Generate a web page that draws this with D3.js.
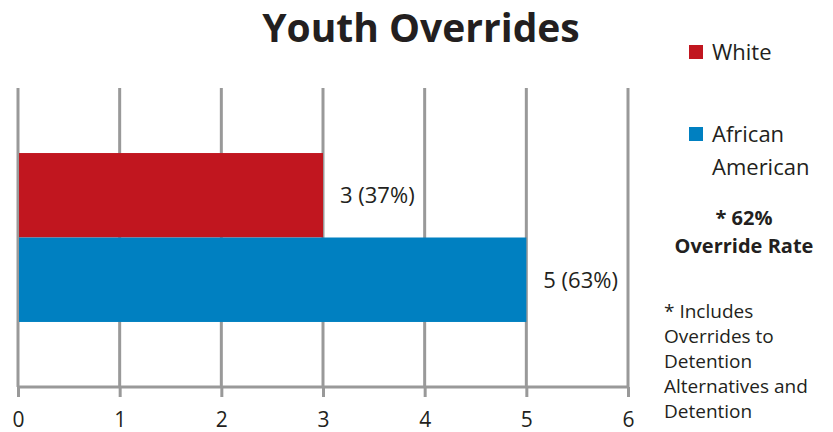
<!DOCTYPE html>
<html>
<head>
<meta charset="utf-8">
<script src="https://cdn.jsdelivr.net/npm/d3@7"></script>
<style>
  body { margin: 0; background: #fff; }
  svg text { font-family: "Open Sans", "Noto Sans", sans-serif; fill: #231f20; }
</style>
</head>
<body>
<div id="root"></div>
<script>
// data
const series = ['White', 'African American'];
const values = [3, 5];
const valueLabels = ['3 (37%)', '5 (63%)'];
const colors = ['#c1161f', '#0080c1'];
const xTicks = [0, 1, 2, 3, 4, 5, 6];
const legendLines = [['White'], ['African', 'American']];
const rateLines = ['* 62%', 'Override Rate'];
const noteLines = ['* Includes', 'Overrides to', 'Detention', 'Alternatives and', 'Detention'];

const w = 833, h = 432;
const svg = d3.select('#root').append('svg').attr('width', w).attr('height', h);

// scales
const x = d3.scaleLinear().domain([0, 6]).range([18, 628]);
const y = d3.scaleBand().domain(series).range([88, 387]).paddingInner(0).paddingOuter(0.77);

// gridlines
svg.append('g').selectAll('line')
  .data(xTicks)
  .enter().append('line')
  .attr('x1', d => x(d)).attr('x2', d => x(d))
  .attr('y1', 88).attr('y2', 387)
  .attr('stroke', '#999').attr('stroke-width', 3);

// bars
svg.selectAll('rect.bar')
  .data(values)
  .enter().append('rect')
  .attr('class', 'bar')
  .attr('x', x(0) + 1)
  .attr('y', (d, i) => y(series[i]))
  .attr('width', d => x(d) - x(0) - 1)
  .attr('height', y.bandwidth())
  .attr('fill', (d, i) => colors[i]);

// value labels
svg.selectAll('text.val')
  .data(values)
  .enter().append('text')
  .attr('class', 'val')
  .attr('x', d => x(d) + 17)
  .attr('y', (d, i) => y(series[i]) + y.bandwidth() / 2 + 8)
  .style('font-size', '22px')
  .text((d, i) => valueLabels[i]);

// x axis
const xAxis = d3.axisBottom(x).tickValues(xTicks).tickFormat(d3.format('d')).tickSize(10).tickPadding(15);
const ax = svg.append('g')
  .attr('transform', 'translate(0,387)')
  .call(xAxis);
ax.select('.domain').attr('stroke', '#999').attr('stroke-width', 3).attr('d', `M${x(0)},0H${x(6)}`);
ax.selectAll('.tick line').attr('stroke', '#999').attr('stroke-width', 3);
ax.selectAll('.tick text').style('font-size', '21px').style('font-family', '"Open Sans", sans-serif').attr('fill', '#231f20');

// title
svg.append('text')
  .attr('x', 421).attr('y', 42)
  .attr('text-anchor', 'middle')
  .style('font-size', '39px').style('font-weight', 'bold')
  .text('Youth Overrides');

// legend
const legendY = [45, 127];
legendLines.forEach((lines, i) => {
  svg.append('rect')
    .attr('x', 689).attr('y', legendY[i])
    .attr('width', 14).attr('height', 14)
    .attr('fill', colors[i]);
  lines.forEach((t, j) => {
    svg.append('text')
      .attr('x', 712).attr('y', legendY[i] + 15 + j * 33)
      .style('font-size', '22px')
      .text(t);
  });
});

// override rate
rateLines.forEach((t, j) => {
  svg.append('text')
    .attr('x', 744).attr('y', 225 + j * 28)
    .attr('text-anchor', 'middle')
    .style('font-size', '20px').style('font-weight', 'bold')
    .text(t);
});

// note
noteLines.forEach((t, j) => {
  svg.append('text')
    .attr('x', 664).attr('y', 318 + j * 25)
    .style('font-size', '19px')
    .text(t);
});
</script>
</body>
</html>
